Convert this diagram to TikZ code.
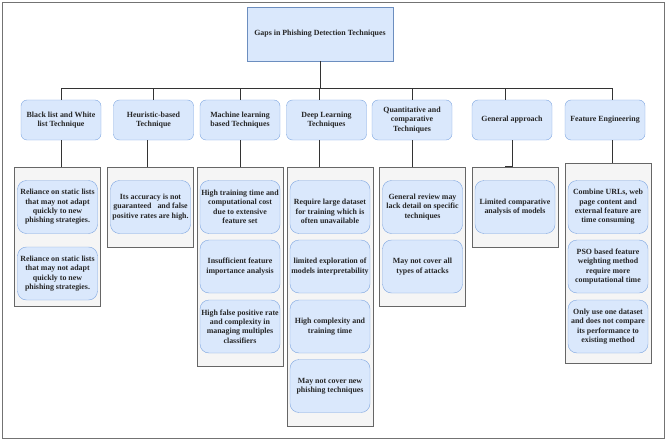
\documentclass[tikz,border=0pt]{standalone}
\usepackage{fontspec}
\setmainfont{Liberation Serif}
\definecolor{boxfill}{HTML}{DAE8FC}
\definecolor{boxline}{HTML}{7EA6E0}
\definecolor{rootline}{HTML}{6C8EBF}
\definecolor{panelfill}{HTML}{F5F5F5}
\definecolor{panelline}{HTML}{666666}

\begin{document}
\begin{tikzpicture}[x=1pt,y=-1pt,
    every node/.style={align=center,inner sep=1pt,text=black!85,font=\fontsize{7.9}{9.4}\selectfont\bfseries},
    root/.style={draw=rootline,fill=boxfill,minimum width=146pt,minimum height=54pt},
    topic/.style={draw=boxline,fill=boxfill,rounded corners=6pt,minimum width=80pt,minimum height=40pt},
    panel/.style={draw=panelline,fill=panelfill,minimum width=86pt},
    gap/.style={draw=boxline,fill=boxfill,rounded corners=9pt,minimum width=80pt,minimum height=53pt},
    link/.style={draw=black!80,line width=0.8pt}]
  \useasboundingbox (0,0) rectangle (666,441);
  \draw[black!55,line width=0.8pt] (2,2) rectangle (664,438);

  \node[root] (root) at (320,34) {Gaps in Phishing Detection Techniques};

  \node[topic] (b1) at (61,120) {Black list and White\\list Technique};
  \node[topic] (b2) at (153.5,120) {Heuristic-based\\Technique};
  \node[topic] (b3) at (240,120) {Machine learning\\based Techniques};
  \node[topic] (b4) at (326.5,120) {Deep Learning\\Techniques};
  \node[topic] (b5) at (412,120) {Quantitative and\\comparative\\Techniques};
  \node[topic] (b6) at (512,120) {General approach};
  \node[topic] (b7) at (605,120) {Feature Engineering};

  \foreach \b/\dx in {b1/0pt,b2/0pt,b3/0pt,b4/-7pt,b5/0pt,b6/-7pt,b7/7pt}
    \draw[link] (root.south) -- ++(0,27) -| ([xshift=\dx]\b.north);

  % gray panels
  \node[panel,minimum height=139pt] (g1) at (57.5,236.5) {};
  \node[panel,minimum height=80pt] (g2) at (150,207) {};
  \node[panel,minimum height=199pt] (g3) at (240,266.5) {};
  \node[panel,minimum height=259pt] (g4) at (330,296.5) {};
  \node[panel,minimum height=139pt] (g5) at (422.5,236.5) {};
  \node[panel,minimum height=80pt] (g6) at (515,207) {};
  \node[panel,minimum height=200pt] (g7) at (608.5,263) {};

  \foreach \b/\g/\dx in {b1/g1/0pt,b2/g2/-6.5pt,b3/g3/0pt,b4/g4/-7.5pt,b5/g5/0pt,b7/g7/7pt}
    \draw[link] ([xshift=\dx]\b.south) -- ([xshift=\dx]\b.south |- \g.north);
  \draw[link] (b6.south) |- ([xshift=-10pt]g6.north);

  % gaps
  \node[gap] (g1a) at (57.5,207) {Reliance on static lists\\that may not adapt\\quickly to new\\phishing strategies.};
  \node[gap] (g1b) at (57.5,273.5) {Reliance on static lists\\that may not adapt\\quickly to new\\phishing strategies.};

  \node[gap] (g2a) at (150.5,207) {Its accuracy is not\\guaranteed \ \ and false\\positive rates are high.};

  \node[gap] (g3a) at (240,207) {High training time and\\computational cost\\due to extensive\\feature set};
  \node[gap] (g3b) at (240,266.5) {Insufficient feature\\importance analysis};
  \node[gap] (g3c) at (240,326.5) {High false positive rate\\and complexity in\\managing multiples\\classifiers};

  \node[gap] (g4a) at (330,207) {\mbox{}\\[5pt]Require large dataset\\for training which is\\often unavailable};
  \node[gap] (g4b) at (330,266.5) {limited exploration of\\models interpretability};
  \node[gap] (g4c) at (330,326.5) {High complexity and\\training time};
  \node[gap] (g4d) at (330,386) {May not cover new\\phishing techniques};

  \node[gap] (g5a) at (422.5,207) {General review may\\lack detail on specific\\techniques};
  \node[gap] (g5b) at (422.5,266.5) {May not cover all\\types of attacks};

  \node[gap] (g6a) at (515,207) {Limited comparative\\analysis of models};

  \node[gap] (g7a) at (608,207) {Combine URLs, web\\page content and\\external feature are\\time consuming};
  \node[gap] (g7b) at (608,266.5) {PSO based feature\\weighting method\\require more\\computational time};
  \node[gap] (g7c) at (608,326.5) {Only use one dataset\\and does not compare\\its performance to\\existing method};
\end{tikzpicture}
\end{document}
